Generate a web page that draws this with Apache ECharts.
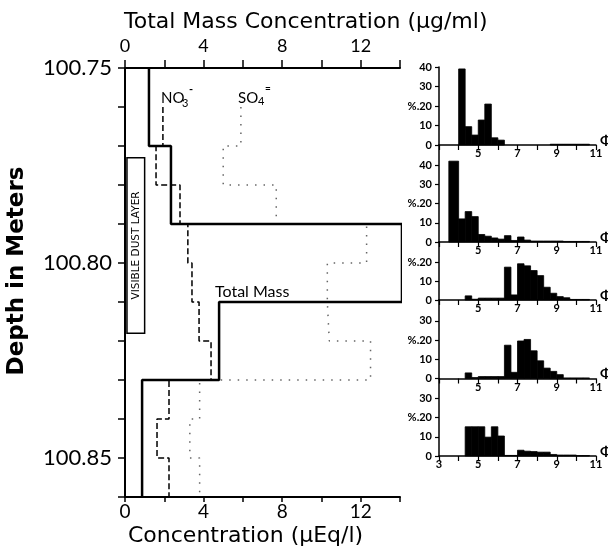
<!DOCTYPE html>
<html>
<head>
<meta charset="utf-8">
<script src="https://cdn.jsdelivr.net/npm/echarts@6/dist/echarts.min.js"></script>
<style>
  html, body { margin: 0; padding: 0; background: #fff; }
  #chart { width: 608px; height: 553px; }
</style>
</head>
<body>
<div id="chart"></div>
<script>
// depth profile, one value per 1 cm interval between depthEdges
const depthEdges = [100.75, 100.76, 100.77, 100.78, 100.79, 100.80, 100.81, 100.82, 100.83, 100.84, 100.85, 100.86];
const totalMass = [1.22, 1.22, 2.34, 2.34, 14.1, 14.1, 4.79, 4.79, 0.87, 0.87, 0.87];
const nitrate = [null, 1.93, 1.58, 2.8, 3.2, 3.41, 3.77, 4.38, 2.24, 1.63, 2.24];
const sulfate = [null, 5.9, 5.0, 7.7, 12.3, 10.3, 10.4, 12.5, 3.8, 3.3, 3.8];
const dustDepth = [100.773, 100.818];
const depthLabels = [100.75, 100.80, 100.85];
const concLabels = [0, 4, 8, 12];

// size distributions (% per phi bin)
const phiEdges = [3.5, 4, 4.333, 4.667, 5, 5.333, 5.667, 6, 6.333, 6.667, 7, 7.333, 7.667, 8, 8.333, 8.667, 9, 9.333, 9.667, 10, 10.333, 10.667, 11];
const dist1 = [0, 39, 9.4, 5.1, 12.8, 21, 3.7, 2.5, 0, 0, 0, 0, 0, 0, 0, 0.4, 0.4, 0.4, 0.4, 0.4, 0.4, 0];
const dist2 = [42, 12, 15.8, 13.2, 3.9, 3, 2.1, 1.5, 3.3, 0.8, 2.6, 1, 0.5, 0.5, 0.5, 0.5, 0.5, 0.3, 0.3, 0.3, 0.3, 0];
const dist3 = [0, 0, 2.2, 0.4, 1, 1, 1, 1, 17.5, 2.7, 19.3, 18.2, 15.7, 13, 6.8, 3.6, 1.8, 1.2, 0.3, 0.3, 0.3, 0];
const dist4 = [0, 0, 2.9, 0.5, 1, 1, 1, 1, 17.3, 3.2, 19.5, 20.3, 14.4, 9.2, 5.4, 3.7, 2, 0.3, 0.3, 0.3, 0.3, 0];
const dist5 = [0, 0, 15.2, 15.2, 15.2, 9.8, 15.2, 10.4, 0.3, 0.3, 3, 2.5, 2.3, 2, 2, 0.8, 0.5, 0.5, 0.5, 0.2, 0.2, 0];
const phiLabels = [5, 7, 9, 11];

const FONT = 'Lato, "DejaVu Sans", sans-serif';
const WIDE = '"DejaVu Sans", sans-serif';

function stepPoints(vals) {
  const pts = [];
  vals.forEach((v, i) => {
    if (v == null) return;
    pts.push([v, depthEdges[i]], [v, depthEdges[i + 1]]);
  });
  return pts;
}

// panel layout: top, height, y max, tick values
const panels = [
  { dist: dist1, top: 67, height: 78, max: 40, ticks: [0, 10, 20, 30, 40] },
  { dist: dist2, top: 145, height: 97, max: 50.4, ticks: [0, 10, 20, 30, 40] },
  { dist: dist3, top: 242, height: 58, max: 30.9, ticks: [0, 10, 20] },
  { dist: dist4, top: 300, height: 78.5, max: 40.8, ticks: [0, 10, 20, 30] },
  { dist: dist5, top: 378.5, height: 77.5, max: 40.3, ticks: [0, 10, 20, 30] }
];

const chart = echarts.init(document.getElementById('chart'));

const grids = [{ left: 125, top: 68, width: 275, height: 429, outerBoundsMode: 'none' }];
const xAxes = [
  {
    gridIndex: 0, type: 'value', position: 'top', min: 0, max: 14, interval: 2,
    axisLine: { lineStyle: { color: '#000', width: 2 } },
    axisTick: { length: 8, lineStyle: { color: '#000', width: 1.5 } },
    axisLabel: { customValues: concLabels, fontSize: 18, fontFamily: FONT, color: '#000', margin: 13 },
    splitLine: { show: false }
  },
  {
    gridIndex: 0, type: 'value', position: 'bottom', min: 0, max: 14, interval: 2,
    axisLine: { onZero: false, lineStyle: { color: '#000', width: 2 } },
    axisTick: { length: 5, lineStyle: { color: '#000', width: 1.5 } },
    axisLabel: { customValues: concLabels, fontSize: 19, fontFamily: FONT, color: '#000', margin: 5 },
    splitLine: { show: false }
  }
];
const yAxes = [
  {
    gridIndex: 0, type: 'value', inverse: true, min: 100.75, max: 100.86, interval: 0.01,
    axisLine: { onZero: false, lineStyle: { color: '#000', width: 2 } },
    axisTick: { length: 7, lineStyle: { color: '#000', width: 1.5 } },
    axisLabel: {
      customValues: depthLabels, formatter: v => v.toFixed(2),
      fontSize: 22, fontFamily: FONT, color: '#000', margin: 13
    },
    splitLine: { show: false }
  }
];

const series = [
  {
    type: 'custom', xAxisIndex: 1, yAxisIndex: 0, silent: true,
    data: [[0.1, 1.0, dustDepth[0], dustDepth[1]]],
    encode: { x: [0, 1], y: [2, 3] },
    renderItem: (params, api) => {
      const p0 = api.coord([api.value(0), api.value(2)]);
      const p1 = api.coord([api.value(1), api.value(3)]);
      return {
        type: 'group',
        children: [
          { type: 'rect', shape: { x: p0[0], y: p0[1], width: p1[0] - p0[0], height: p1[1] - p0[1] },
            style: { fill: '#fff', stroke: '#000', lineWidth: 1.5 } },
          { type: 'text', x: (p0[0] + p1[0]) / 2, y: (p0[1] + p1[1]) / 2, rotation: Math.PI / 2,
            style: { text: 'VISIBLE DUST LAYER', font: '10.5px ' + WIDE, fill: '#000', align: 'center', verticalAlign: 'middle' } }
        ]
      };
    }
  },
  {
    name: 'SO4', type: 'line', xAxisIndex: 1, yAxisIndex: 0, data: stepPoints(sulfate),
    symbol: 'none', clip: false, lineStyle: { color: '#666', width: 1.5, type: [1.5, 7] }
  },
  {
    name: 'NO3', type: 'line', xAxisIndex: 1, yAxisIndex: 0, data: stepPoints(nitrate),
    symbol: 'none', clip: false, lineStyle: { color: '#000', width: 1.5, type: [6, 3] }
  },
  {
    name: 'Total Mass', type: 'line', xAxisIndex: 0, yAxisIndex: 0, data: stepPoints(totalMass),
    symbol: 'none', clip: false, lineStyle: { color: '#000', width: 2.5 }
  }
];

const graphic = [
  { type: 'text', x: 124, y: 22, style: { text: 'Total Mass Concentration (μg/ml)', font: '22px ' + WIDE, fill: '#000', align: 'left', verticalAlign: 'middle' } },
  { type: 'text', x: 128, y: 536, style: { text: 'Concentration (μEq/l)', font: '22px ' + WIDE, fill: '#000', align: 'left', verticalAlign: 'middle' } },
  { type: 'text', x: 17, y: 271, rotation: Math.PI / 2, style: { text: 'Depth in Meters', font: 'bold 23px ' + WIDE, fill: '#000', align: 'center', verticalAlign: 'middle' } },
  { type: 'text', x: 161, y: 98, style: { text: 'NO', font: '15px ' + FONT, fill: '#000', align: 'left', verticalAlign: 'middle' } },
  { type: 'text', x: 182, y: 103, style: { text: '3', font: '11px ' + FONT, fill: '#000', align: 'left', verticalAlign: 'middle' } },
  { type: 'text', x: 189, y: 89, style: { text: '-', font: 'bold 11px ' + FONT, fill: '#000', align: 'left', verticalAlign: 'middle' } },
  { type: 'text', x: 238, y: 98, style: { text: 'SO', font: '15px ' + FONT, fill: '#000', align: 'left', verticalAlign: 'middle' } },
  { type: 'text', x: 258, y: 101, style: { text: '4', font: '11px ' + FONT, fill: '#000', align: 'left', verticalAlign: 'middle' } },
  { type: 'text', x: 265, y: 89, style: { text: '=', font: 'bold 10px ' + FONT, fill: '#000', align: 'left', verticalAlign: 'middle' } },
  { type: 'text', x: 215, y: 292, style: { text: 'Total Mass', font: '16px ' + FONT, fill: '#000', align: 'left', verticalAlign: 'middle' } }
];

panels.forEach((p, k) => {
  const gi = k + 1;   // grid / yAxis index
  const xi = k + 2;   // xAxis index (grid 0 owns two x axes)
  grids.push({ left: 439, top: p.top, width: 157, height: p.height, outerBoundsMode: 'none' });
  xAxes.push({
    gridIndex: gi, type: 'value', min: 3, max: 11, interval: 1,
    axisLine: { onZero: false, lineStyle: { color: '#000', width: 1.5 } },
    axisTick: { length: 5, lineStyle: { color: '#000', width: 1.2 } },
    axisLabel: {
      customValues: k === panels.length - 1 ? [3].concat(phiLabels) : phiLabels,
      fontSize: 11, fontWeight: 'bold', fontFamily: FONT, color: '#000', margin: 3
    },
    splitLine: { show: false }
  });
  yAxes.push({
    gridIndex: gi, type: 'value', min: 0, max: p.max,
    axisLine: { onZero: false, lineStyle: { color: '#000', width: 1.5 } },
    axisTick: { customValues: p.ticks, length: 4, lineStyle: { color: '#000', width: 1.2 } },
    axisLabel: {
      customValues: p.ticks, formatter: v => (v === 20 ? '%.20' : String(v)),
      fontSize: 11, fontWeight: 'bold', fontFamily: FONT, color: '#000', margin: 7
    },
    splitLine: { show: false }
  });
  series.push({
    type: 'custom', xAxisIndex: xi, yAxisIndex: gi, silent: true,
    data: p.dist.map((v, i) => [phiEdges[i], phiEdges[i + 1], v]),
    encode: { x: [0, 1], y: 2 },
    renderItem: (params, api) => {
      const a = api.coord([api.value(0), api.value(2)]);
      const b = api.coord([api.value(1), 0]);
      return {
        type: 'rect',
        shape: { x: a[0], y: a[1], width: b[0] - a[0], height: b[1] - a[1] },
        style: { fill: '#000', stroke: api.value(2) > 0 ? '#000' : null, lineWidth: 0.8 }
      };
    }
  });
  graphic.push({ type: 'text', x: 600, y: p.top + p.height - 5, style: { text: 'Φ', font: 'bold 14px ' + FONT, fill: '#000', align: 'left', verticalAlign: 'middle' } });
});

chart.setOption({
  animation: false,
  backgroundColor: '#fff',
  grid: grids,
  xAxis: xAxes,
  yAxis: yAxes,
  series: series,
  graphic: graphic
});
</script>
</body>
</html>
